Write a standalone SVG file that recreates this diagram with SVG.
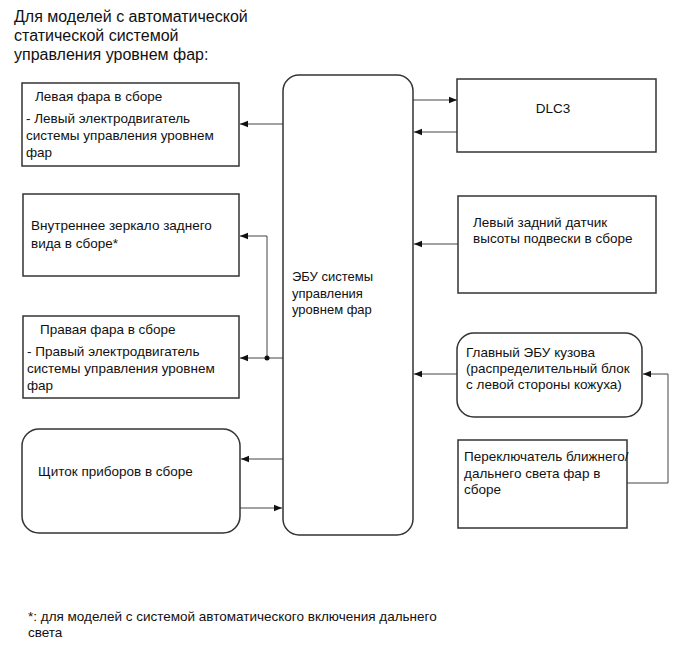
<svg xmlns="http://www.w3.org/2000/svg" width="689" height="659" viewBox="0 0 689 659">
<style>
text{font-family:"Liberation Sans",Arial,sans-serif;fill:#111;}
.t{font-size:13.5px;}
.h{font-size:16px;}
.e{font-size:13px;}
.box{fill:#fff;stroke:#333;stroke-width:1.5;}
.c{fill:none;stroke:#444;stroke-width:1;}
</style>
<defs>
<marker id="a" viewBox="0 0 10 10" refX="10" refY="5" markerWidth="8" markerHeight="8" markerUnits="userSpaceOnUse" orient="auto">
<path d="M0,1 L10,5 L0,9 z" fill="#111"/>
</marker>
</defs>
<rect width="689" height="659" fill="#fff"/>
<g id="title">
<text class="h" x="14" y="22">Для моделей с автоматической</text>
<text class="h" x="14" y="41">статической системой</text>
<text class="h" x="14" y="60">управления уровнем фар:</text>
</g>
<g id="connectors">
<line class="c" x1="283" y1="124" x2="240" y2="124" marker-end="url(#a)"/>
<line class="c" x1="413" y1="100" x2="457" y2="100" marker-end="url(#a)"/>
<line class="c" x1="457" y1="132" x2="414" y2="132" marker-end="url(#a)"/>
<line class="c" x1="283" y1="358" x2="240" y2="358" marker-end="url(#a)"/>
<polyline class="c" points="267,358 267,236 240,236" marker-end="url(#a)"/>
<circle cx="267" cy="358" r="2.5" fill="#111"/>
<line class="c" x1="458" y1="244" x2="414" y2="244" marker-end="url(#a)"/>
<line class="c" x1="457" y1="374" x2="414" y2="374" marker-end="url(#a)"/>
<polyline class="c" points="627,483 668,483 668,374 643,374" marker-end="url(#a)"/>
<line class="c" x1="283" y1="459" x2="241" y2="459" marker-end="url(#a)"/>
<line class="c" x1="240" y1="508" x2="282" y2="508" marker-end="url(#a)"/>
</g>
<g id="ecu">
<rect class="box" x="283" y="75" width="130" height="460" rx="16"/>
<text class="e" x="292" y="281">ЭБУ системы</text>
<text class="e" x="292" y="298">управления</text>
<text class="e" x="292" y="314">уровнем фар</text>
</g>
<g id="left-headlamp">
<rect class="box" x="22" y="83" width="217" height="83"/>
<text class="t" x="35" y="101">Левая фара в сборе</text>
<text class="t" x="26" y="123">- Левый электродвигатель</text>
<text class="t" x="26" y="140">системы управления уровнем</text>
<text class="t" x="26" y="157">фар</text>
</g>
<g id="mirror">
<rect class="box" x="23" y="194" width="216" height="82"/>
<text class="t" x="31" y="230">Внутреннее зеркало заднего</text>
<text class="t" x="31" y="248">вида в сборе*</text>
</g>
<g id="right-headlamp">
<rect class="box" x="23" y="316" width="216" height="82"/>
<text class="t" x="40" y="334">Правая фара в сборе</text>
<text class="t" x="27" y="356">- Правый электродвигатель</text>
<text class="t" x="27" y="373">системы управления уровнем</text>
<text class="t" x="27" y="390">фар</text>
</g>
<g id="cluster">
<rect class="box" x="22" y="429" width="218" height="104" rx="17"/>
<text class="t" x="38" y="476">Щиток приборов в сборе</text>
</g>
<g id="dlc3">
<rect class="box" x="457" y="79" width="199" height="73"/>
<text class="t" x="553" y="113" text-anchor="middle">DLC3</text>
</g>
<g id="height-sensor">
<rect class="box" x="458" y="196" width="198" height="97"/>
<text class="t" x="473" y="227">Левый задний датчик</text>
<text class="t" x="473" y="243">высоты подвески в сборе</text>
</g>
<g id="body-ecu">
<rect class="box" x="457" y="333" width="185" height="84" rx="17"/>
<text class="t" x="466" y="357">Главный ЭБУ кузова</text>
<text class="t" x="466" y="373">(распределительный блок</text>
<text class="t" x="466" y="389">с левой стороны кожуха)</text>
</g>
<g id="switch">
<rect class="box" x="458" y="440" width="169" height="88"/>
<text class="t" x="464" y="461">Переключатель ближнего/</text>
<text class="t" x="464" y="478">дальнего света фар в</text>
<text class="t" x="464" y="494">сборе</text>
</g>
<g id="footnote">
<text class="t" x="28" y="621">*: для моделей с системой автоматического включения дальнего</text>
<text class="t" x="28" y="637">света</text>
</g>
</svg>
